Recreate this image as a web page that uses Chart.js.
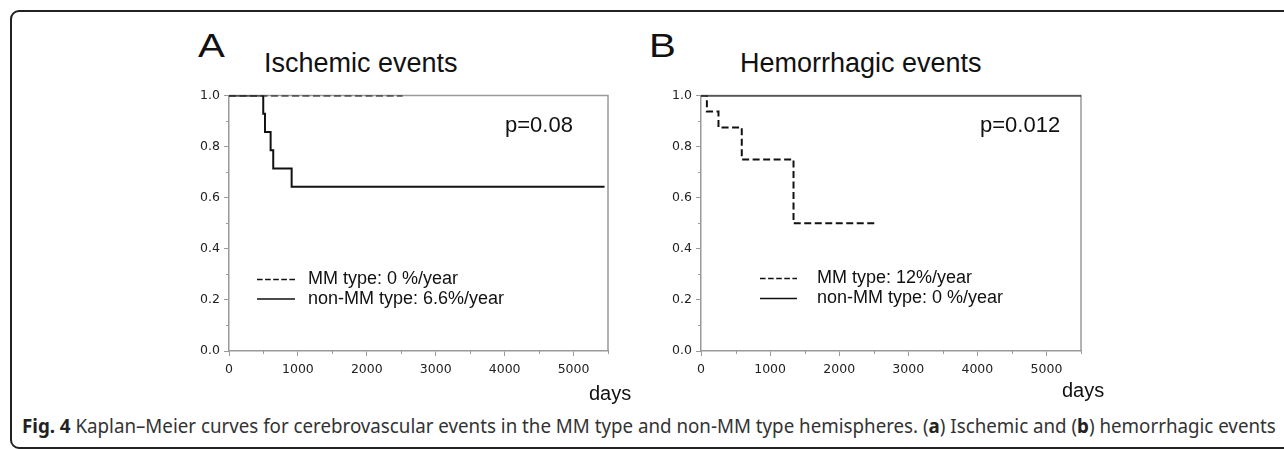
<!DOCTYPE html>
<html>
<head>
<meta charset="utf-8">
<title>Kaplan-Meier curves</title>
<script src="https://cdn.jsdelivr.net/npm/chart.js@4.4.1/dist/chart.umd.min.js"></script>
<style>
  html, body { margin: 0; padding: 0; background: #fff; }
  body { width: 1284px; height: 449px; overflow: hidden; position: relative;
         font-family: "Liberation Sans", Arial, sans-serif; color: #111; }
  .frame { position: absolute; left: 10px; top: 10px; width: 1320px; height: 435px;
           border: 2px solid #222; border-radius: 9px; }
  .t { position: absolute; white-space: nowrap; line-height: 1; transform-origin: 0 0; }
  .letter { font-size: 33px; transform: scaleX(1.22); }
  .title { font-size: 27px; }
  .days { font-size: 20px; }
  .caption { font-family: "Noto Sans", sans-serif; font-size: 19px; color: #333; }
  .caption b { color: #222; }
  canvas { position: absolute; }
</style>
</head>
<body>
<div class="frame"></div>

<div class="t letter" style="left:198px; top:29px;">A</div>
<div class="t title" style="left:264px; top:50px;">Ischemic events</div>
<div class="t letter" style="left:649px; top:29px;">B</div>
<div class="t title" style="left:740px; top:50px;">Hemorrhagic events</div>

<canvas id="chartA" width="440" height="300" style="left:180px; top:84px;"></canvas>
<canvas id="chartB" width="441" height="300" style="left:652px; top:84px;"></canvas>

<div class="t days" style="left:589px; top:383px;">days</div>
<div class="t days" style="left:1062px; top:380px;">days</div>

<div class="t caption" id="caption" data-w="1254" style="left:22px; top:417px;"><b>Fig. 4</b> Kaplan–Meier curves for cerebrovascular events in the MM type and non-MM type hemispheres. (<b>a</b>) Ischemic and (<b>b</b>) hemorrhagic events</div>

<script>
// ---- data ----
// Panel A: ischemic events
const daysA_mm = [0, 2520];
const survA_mm = [1.0, 1.0];
const daysA_non = [0, 497, 522, 604, 642, 909, 5450];
const survA_non = [1.0, 0.929, 0.857, 0.786, 0.714, 0.643, 0.643];
const labelsA = ['MM type: 0 %/year', 'non-MM type: 6.6%/year'];
const pA = 'p=0.08';

// Panel B: hemorrhagic events
const daysB_mm = [0, 85, 253, 590, 1339, 2535];
const survB_mm = [1.0, 0.9375, 0.875, 0.75, 0.5, 0.5];
const daysB_non = [0, 5500];
const survB_non = [1.0, 1.0];
const labelsB = ['MM type: 12%/year', 'non-MM type: 0 %/year'];
const pB = 'p=0.012';

// axes
const xMax = 5500;
const xTicks = [0, 1000, 2000, 3000, 4000, 5000];
const yTicks = [0, 0.2, 0.4, 0.6, 0.8, 1.0];
const xMinorTicks = [500, 1500, 2500, 3500, 4500, 5500];
const yMinorTicks = [0.1, 0.3, 0.5, 0.7, 0.9];

const AXIS = '#9a9a9a';
const INK = '#111';

function pts(xs, ys) {
  return xs.map((x, i) => ({ x: x, y: ys[i] }));
}

// box around the plot + minor ticks
const frameBox = {
  id: 'frameBox',
  beforeDatasetsDraw(chart) {
    const { ctx, chartArea: a, scales } = chart;
    ctx.save();
    ctx.strokeStyle = AXIS;
    ctx.lineWidth = 1.5;
    ctx.beginPath();
    ctx.moveTo(a.left, a.top);
    ctx.lineTo(a.right, a.top);
    ctx.lineTo(a.right, a.bottom);
    ctx.stroke();
    ctx.lineWidth = 1;
    ctx.beginPath();
    xMinorTicks.forEach(v => {
      const px = Math.round(scales.x.getPixelForValue(v)) + 0.5;
      ctx.moveTo(px, a.bottom);
      ctx.lineTo(px, a.bottom + 3);
    });
    yMinorTicks.forEach(v => {
      const py = Math.round(scales.y.getPixelForValue(v)) + 0.5;
      ctx.moveTo(a.left - 3, py);
      ctx.lineTo(a.left, py);
    });
    ctx.stroke();
    ctx.restore();
  }
};

// legend and p value drawn inside the plot
const insideText = {
  id: 'insideText',
  afterDatasetsDraw(chart, args, opts) {
    const { ctx, chartArea: a } = chart;
    ctx.save();
    ctx.fillStyle = INK;
    ctx.strokeStyle = INK;
    ctx.font = '18px "Liberation Sans", Arial, sans-serif';
    ctx.textBaseline = 'middle';
    chart.data.datasets.forEach((ds, i) => {
      const y = a.top + opts.rowY + i * opts.rowGap;
      ctx.lineWidth = 1.6;
      ctx.setLineDash(ds.borderDash ? [5.6, 2.5] : []);
      ctx.beginPath();
      ctx.moveTo(a.left + opts.lineX, y);
      ctx.lineTo(a.left + opts.lineX + opts.lineLen, y);
      ctx.stroke();
      ctx.setLineDash([]);
      ctx.fillText(ds.label, a.left + opts.textX, y);
    });
    ctx.font = '22px "Liberation Sans", Arial, sans-serif';
    ctx.textBaseline = 'alphabetic';
    ctx.fillText(opts.pText, a.left + opts.pX, a.top + opts.pY);
    ctx.restore();
  }
};

const tickFont = { family: '"DejaVu Sans", Verdana, sans-serif', size: 12.5 };

function makeChart(id, mm, non, labels, legendPos) {
  return new Chart(document.getElementById(id), {
    type: 'line',
    data: {
      datasets: [
        {
          label: labels[0],
          data: mm,
          stepped: 'before',
          borderColor: INK,
          borderWidth: 2,
          borderDash: [7, 3.5],
          pointRadius: 0,
          fill: false
        },
        {
          label: labels[1],
          data: non,
          stepped: 'before',
          borderColor: INK,
          borderWidth: 2,
          pointRadius: 0,
          fill: false
        }
      ]
    },
    options: {
      responsive: false,
      animation: false,
      layout: { padding: { left: 9, right: 12, top: 10, bottom: 3 } },
      plugins: {
        legend: { display: false },
        tooltip: { enabled: false },
        insideText: legendPos
      },
      scales: {
        x: {
          type: 'linear',
          min: 0,
          max: xMax,
          afterBuildTicks(scale) { scale.ticks = xTicks.map(v => ({ value: v })); },
          afterFit(scale) { scale.height = 30; },
          ticks: {
            padding: 6,
            color: '#222',
            font: tickFont,
            callback: v => String(v)
          },
          grid: { drawOnChartArea: false, tickLength: 5, tickColor: AXIS, tickWidth: 1 },
          border: { color: AXIS, width: 1.5 }
        },
        y: {
          min: 0,
          max: 1,
          afterBuildTicks(scale) { scale.ticks = yTicks.map(v => ({ value: v })); },
          afterFit(scale) { scale.width = 40; },
          ticks: {
            padding: 4,
            color: '#222',
            font: tickFont,
            callback: v => v.toFixed(1)
          },
          grid: { drawOnChartArea: false, tickLength: 5, tickColor: AXIS, tickWidth: 1 },
          border: { color: AXIS, width: 1.5 }
        }
      }
    },
    plugins: [frameBox, insideText]
  });
}

makeChart('chartA', pts(daysA_mm, survA_mm), pts(daysA_non, survA_non), labelsA,
  { rowY: 184, rowGap: 19.5, lineX: 28, lineLen: 38, textX: 79, pX: 276, pY: 36, pText: pA });
makeChart('chartB', pts(daysB_mm, survB_mm), pts(daysB_non, survB_non), labelsB,
  { rowY: 183, rowGap: 20, lineX: 59, lineLen: 37, textX: 116, pX: 279, pY: 36, pText: pB });

// squeeze the caption to the width it has in the figure
const cap = document.getElementById('caption');
cap.style.transform = 'scaleX(' + (cap.dataset.w / cap.offsetWidth) + ')';
</script>
</body>
</html>
